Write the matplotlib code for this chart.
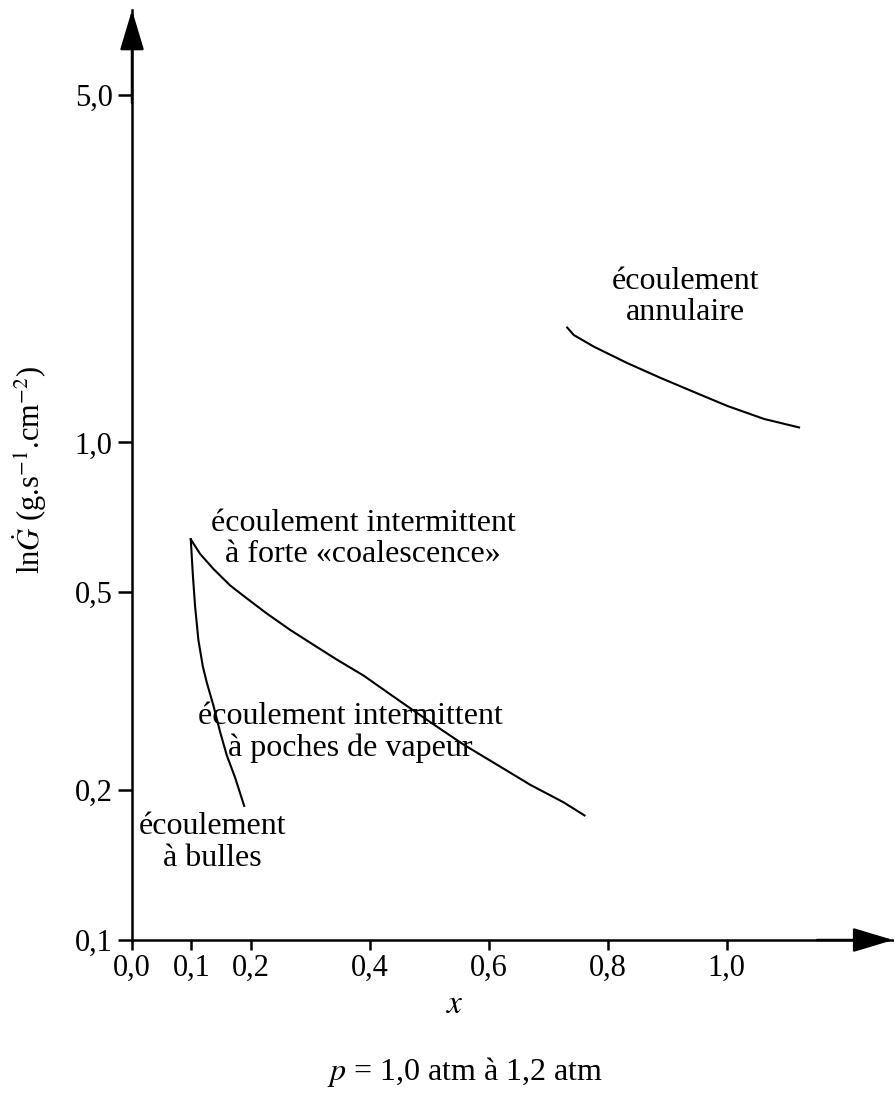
import numpy as np
import matplotlib
matplotlib.use("Agg")
import matplotlib.pyplot as plt

plt.rcParams['font.family'] = 'serif'
plt.rcParams['font.serif'] = ['Liberation Serif', 'DejaVu Serif']
plt.rcParams['mathtext.fontset'] = 'stix'

# frontiere bulles / intermittent
bulles_x = [0.0988, 0.1022, 0.1061, 0.1116, 0.1190, 0.1258, 0.1369, 0.1481, 0.1594, 0.1734, 0.1886]
bulles_y = [0.639, 0.544, 0.468, 0.401, 0.355, 0.329, 0.296, 0.262, 0.235, 0.212, 0.186]

# frontiere poches / coalescence
coal_x = [0.0988, 0.1145, 0.1369, 0.1650, 0.1931, 0.2268, 0.2660, 0.3052, 0.3446,
          0.3894, 0.4456, 0.5017, 0.5577, 0.6140, 0.6700, 0.7261, 0.7609]
coal_y = [0.639, 0.597, 0.557, 0.516, 0.486, 0.453, 0.420, 0.392, 0.366,
          0.340, 0.305, 0.274, 0.247, 0.225, 0.205, 0.189, 0.178]

# frontiere annulaire
ann_x = [0.7318, 0.7429, 0.7766, 0.8328, 0.8889, 0.9450, 1.0012, 1.0628, 1.1217]
ann_y = [1.702, 1.644, 1.558, 1.444, 1.348, 1.263, 1.184, 1.115, 1.072]

xticks = [0.0, 0.1, 0.2, 0.4, 0.6, 0.8, 1.0]
xticklabels = ['0,0', '0,1', '0,2', '0,4', '0,6', '0,8', '1,0']
yticks = [0.1, 0.2, 0.5, 1.0, 5.0]
yticklabels = ['0,1', '0,2', '0,5', '1,0', '5,0']

fig = plt.figure(figsize=(8.95, 10.97), dpi=100)
ax = fig.add_axes([0.1475, 0.1431, 0.8505, 0.8478])

ax.set_yscale('log')
ax.set_xlim(0, 1.28)
ax.set_ylim(0.1, 7.4)

for xs, ys in [(bulles_x, bulles_y), (coal_x, coal_y), (ann_x, ann_y)]:
    ax.plot(xs, ys, color='k', lw=1.5, solid_joinstyle='round')

ax.set_xticks(xticks)
ax.set_xticklabels(xticklabels)
ax.set_yticks(yticks)
ax.set_yticklabels(yticklabels)
ax.minorticks_off()
ax.tick_params(axis='both', direction='out', width=1.8, labelsize=22)
ax.tick_params(axis='y', length=10, pad=4)
ax.tick_params(axis='x', length=7, pad=3)

for s in ['top', 'right']:
    ax.spines[s].set_visible(False)
for s in ['left', 'bottom']:
    ax.spines[s].set_linewidth(1.8)

arrow = dict(arrowstyle='-|>,head_length=2.5,head_width=0.75', color='k',
             lw=1.8, mutation_scale=10, shrinkA=0, shrinkB=0)
ax.annotate('', xy=(1, 0), xytext=(0.9, 0), xycoords='axes fraction', arrowprops=arrow)
ax.annotate('', xy=(0, 1), xytext=(0, 0.9), xycoords='axes fraction', arrowprops=arrow)

fs = 23
ls = 1.1
ax.text(0.931, 1.96, 'écoulement\nannulaire', ha='center', va='center', fontsize=fs, linespacing=ls)
ax.text(0.389, 0.639, 'écoulement intermittent\nà forte «coalescence»', ha='center', va='center',
        fontsize=fs, linespacing=ls)
ax.text(0.367, 0.261, 'écoulement intermittent\nà poches de vapeur', ha='center', va='center',
        fontsize=fs, linespacing=ls)
ax.text(0.135, 0.157, 'écoulement\nà bulles', ha='center', va='center', fontsize=fs, linespacing=ls)

fig.text(30 / 895, 1 - 470 / 1097, r'ln$\dot{G}$ (g.s$^{-1}$.cm$^{-2}$)', rotation=90,
         ha='center', va='center', fontsize=22)
fig.text(455 / 895, 1 - 1005 / 1097, r'$x$', ha='center', va='center', fontsize=24)
fig.text(465 / 895, 1 - 1072 / 1097, r'$p$ = 1,0 atm à 1,2 atm', ha='center', va='center', fontsize=fs)

fig.savefig('out.png', dpi=100)
